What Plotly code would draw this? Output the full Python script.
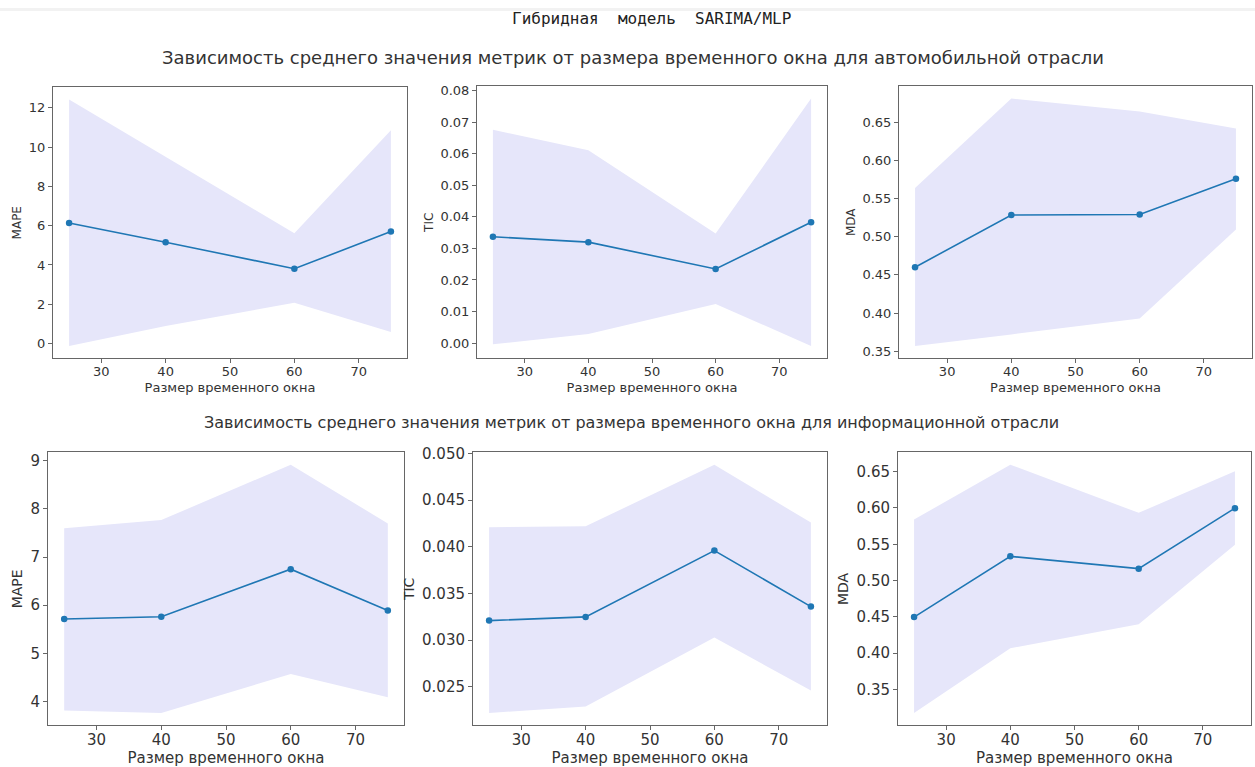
import plotly.graph_objects as go

W, H = 1255, 767

window = [25, 40, 60, 75]

# Automotive industry (top row)
auto_mape_mean = [6.14, 5.16, 3.81, 5.70]
auto_mape_upper = [12.42, 9.50, 5.62, 10.85]
auto_mape_lower = [-0.12, 0.90, 2.08, 0.59]

auto_tic_mean = [0.0337, 0.0320, 0.0235, 0.0383]
auto_tic_upper = [0.0676, 0.0611, 0.0347, 0.0775]
auto_tic_lower = [-0.0004, 0.0029, 0.0124, -0.0009]

auto_mda_mean = [0.460, 0.5285, 0.529, 0.576]
auto_mda_upper = [0.5638, 0.681, 0.664, 0.6417]
auto_mda_lower = [0.3569, 0.372, 0.393, 0.5093]

# Information industry (bottom row)
info_mape_mean = [5.715, 5.76, 6.75, 5.89]
info_mape_upper = [7.60, 7.77, 8.92, 7.70]
info_mape_lower = [3.81, 3.76, 4.57, 4.09]

info_tic_mean = [0.0321, 0.0325, 0.0396, 0.0336]
info_tic_upper = [0.0421, 0.0422, 0.0488, 0.0426]
info_tic_lower = [0.0222, 0.0229, 0.0303, 0.0246]

info_mda_mean = [0.4496, 0.5333, 0.5164, 0.5997]
info_mda_upper = [0.5841, 0.6596, 0.5933, 0.6505]
info_mda_lower = [0.3174, 0.4066, 0.4396, 0.5494]

x_ticks = [30, 40, 50, 60, 70]
y_ticks = {
    1: ([0, 2, 4, 6, 8, 10, 12], "d"),
    2: ([0.00, 0.01, 0.02, 0.03, 0.04, 0.05, 0.06, 0.07, 0.08], ".2f"),
    3: ([0.35, 0.40, 0.45, 0.50, 0.55, 0.60, 0.65], ".2f"),
    4: ([4, 5, 6, 7, 8, 9], "d"),
    5: ([0.025, 0.030, 0.035, 0.040, 0.045, 0.050], ".3f"),
    6: ([0.35, 0.40, 0.45, 0.50, 0.55, 0.60, 0.65], ".2f"),
}

main_title = "Гибридная  модель  SARIMA/MLP"
row_titles = [
    "Зависимость среднего значения метрик от размера временного окна для автомобильной отрасли",
    "Зависимость среднего значения метрик от размера временного окна для информационной отрасли",
]
x_title = "Размер временного окна"
y_titles = ["MAPE", "TIC", "MDA", "MAPE", "TIC", "MDA"]

panels = [
    (auto_mape_mean, auto_mape_upper, auto_mape_lower),
    (auto_tic_mean, auto_tic_upper, auto_tic_lower),
    (auto_mda_mean, auto_mda_upper, auto_mda_lower),
    (info_mape_mean, info_mape_upper, info_mape_lower),
    (info_tic_mean, info_tic_upper, info_tic_lower),
    (info_mda_mean, info_mda_upper, info_mda_lower),
]

# pixel boxes (left, right, top, bottom)
boxes = [
    (53, 407, 80, 354),
    (477, 827, 79, 354),
    (899, 1252, 79, 354),
    (48, 404, 449, 725),
    (473, 827, 449, 725),
    (898, 1251, 449, 725),
]

LINE = "#1f77b4"
FILL = "rgb(230,230,250)"
TEXT = "#333333"
SPINE = "#666666"

fig = go.Figure()
layout = {}

for i, ((mean, up, lo), box) in enumerate(zip(panels, boxes), start=1):
    xa = "x" if i == 1 else f"x{i}"
    ya = "y" if i == 1 else f"y{i}"
    fig.add_trace(go.Scatter(
        x=window + window[::-1], y=up + lo[::-1], xaxis=xa, yaxis=ya,
        fill="toself", fillcolor=FILL, line=dict(width=0), mode="lines",
        hoverinfo="skip", showlegend=False))
    fig.add_trace(go.Scatter(
        x=window, y=mean, xaxis=xa, yaxis=ya, mode="lines+markers",
        line=dict(color=LINE, width=1.6), marker=dict(color=LINE, size=6.5),
        showlegend=False))

    top_row = i <= 3
    tick_size = 13 if top_row else 15
    xt_size = 13 if top_row else 15
    yt_size = 12 if top_row else 14

    l, r, t, b = box
    lo_all = min(lo + mean)
    hi_all = max(up + mean)
    span = hi_all - lo_all
    xspan = window[-1] - window[0]
    common = dict(showline=True, linecolor=SPINE, linewidth=1, mirror=True,
                  ticks="outside", ticklen=4, tickcolor=SPINE, showgrid=False,
                  zeroline=False, tickfont=dict(size=tick_size, color=TEXT))
    tv, fmt = y_ticks[i]
    layout["xaxis" if i == 1 else f"xaxis{i}"] = dict(
        domain=[l / W, r / W], anchor=ya,
        range=[window[0] - 0.05 * xspan, window[-1] + 0.05 * xspan],
        tickvals=x_ticks, ticklabelstandoff=-3,
        title=dict(text=x_title, font=dict(size=xt_size, color=TEXT), standoff=4),
        **common)
    layout["yaxis" if i == 1 else f"yaxis{i}"] = dict(
        domain=[1 - b / H, 1 - t / H], anchor=xa,
        range=[lo_all - 0.05 * span, hi_all + 0.05 * span],
        tickvals=tv, tickformat=fmt,
        title=dict(text=y_titles[i - 1], font=dict(size=yt_size, color=TEXT), standoff=4),
        **common)

annotations = [
    dict(text=main_title, x=651 / W, y=1 - 11 / H, xref="paper", yref="paper",
         showarrow=False, xanchor="center", yanchor="middle",
         font=dict(family="DejaVu Sans Mono", size=16, color="#222222")),
    dict(text=row_titles[0], x=633 / W, y=1 - 50 / H, xref="paper", yref="paper",
         showarrow=False, xanchor="center", yanchor="middle",
         font=dict(size=18, color=TEXT)),
    dict(text=row_titles[1], x=631 / W, y=1 - 419 / H, xref="paper", yref="paper",
         showarrow=False, xanchor="center", yanchor="middle",
         font=dict(size=16, color=TEXT)),
]

fig.update_layout(
    width=W, height=H,
    margin=dict(l=0, r=0, t=0, b=0),
    paper_bgcolor="white", plot_bgcolor="white",
    font=dict(family="DejaVu Sans", color=TEXT),
    annotations=annotations,
    shapes=[dict(type="rect", xref="paper", yref="paper", x0=0, x1=1,
                 y0=1 - 3 / H, y1=1, fillcolor="#f2f2f2", line=dict(width=0),
                 layer="below")],
    **layout,
)

fig.write_html(
    "out.html",
    config={"displayModeBar": False},
    post_script=(
        "document.documentElement.style.margin='0';"
        "document.documentElement.style.overflow='hidden';"
        "document.body.style.margin='0';document.body.style.padding='0';"
        "document.body.style.overflow='hidden';"
        "var gd=document.getElementById('{plot_id}');"
        "gd.style.position='fixed';gd.style.left='0px';gd.style.top='0px';"
    ),
)
